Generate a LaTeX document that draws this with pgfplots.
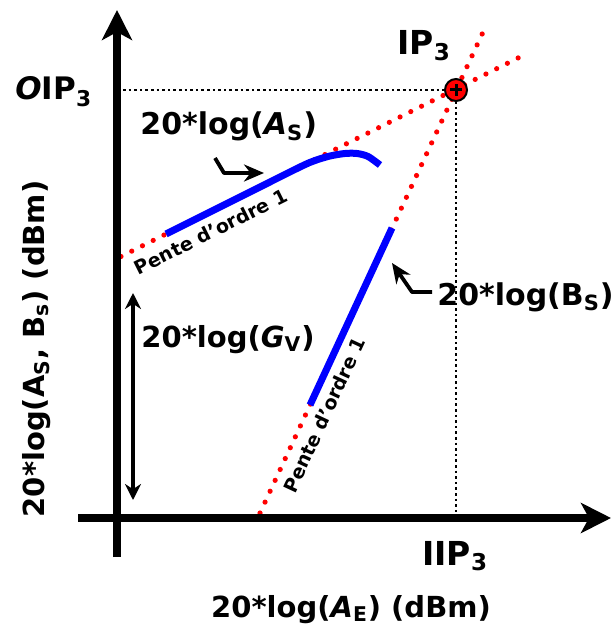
\documentclass[border=0pt]{standalone}
\usepackage{pgfplots}
\pgfplotsset{compat=1.18}
\usetikzlibrary{arrows.meta}
\usepackage{fontspec}
\setmainfont{DejaVu Sans}
\begin{document}
\begin{tikzpicture}
\begin{axis}[scale only axis, width=306pt, height=315pt,
  xmin=0, xmax=612, ymin=0, ymax=630, y dir=reverse,
  hide axis, clip=false]
\path (rel axis cs:0,0) rectangle (rel axis cs:1,1);
% black dotted guides
\addplot[black, line width=1.3pt, dash pattern=on 1.3pt off 1.5pt] coordinates {(123,90) (446,90)};
\addplot[black, line width=1.3pt, dash pattern=on 1.3pt off 1.5pt] coordinates {(456,101) (456,514)};
% red dotted asymptotes
\addplot[red, line width=2.6pt, line cap=round, dash pattern=on 0pt off 6pt] coordinates {(121,256.5) (527,53.5)};
\addplot[red, line width=2.6pt, line cap=round, dash pattern=on 0pt off 6pt] coordinates {(260,513) (484,30)};
% blue curves
\addplot[blue, line width=3.5pt, smooth] coordinates {(166,234) (200,217) (250,192) (300,167) (315,160.5) (330,156) (345,153.5) (357,153.5) (368,156.5) (380,165)};
\addplot[blue, line width=3.5pt] coordinates {(310,405) (392,228)};
% axes
\addplot[black, line width=4pt, -{Stealth[length=15pt,width=15pt,inset=4pt]}] coordinates {(117,557) (117,10)};
\addplot[black, line width=4pt, -{Stealth[length=15pt,width=15pt,inset=4pt]}] coordinates {(78,518) (611,518)};
% G_V double arrow
\addplot[black, line width=1.6pt, {Stealth[length=8pt,width=8pt]}-{Stealth[length=8pt,width=8pt]}] coordinates {(133,293) (133,500)};
% bent arrows
\addplot[black, line width=1.9pt, line join=round, -{Stealth[length=10pt,width=8.5pt]}] coordinates {(215,158) (224,173) (264,173)};
\addplot[black, line width=1.9pt, line join=round, -{Stealth[length=10pt,width=8.5pt]}] coordinates {(432,292) (412,292) (392,263)};
% IP3 marker
\addplot[only marks, mark=*, mark size=5.5pt, mark options={fill=red, draw=black, line width=1pt}] coordinates {(456,90)};
\addplot[only marks, mark=+, mark size=3pt, mark options={black, line width=1.5pt}] coordinates {(456,90)};
% labels
\begin{scope}[every node/.style={inner sep=0pt}]
\node[anchor=base west, font=\bfseries\fontsize{15.5}{20}\selectfont] at (axis cs:15,100) {\textit{O}IP\textsubscript{3}};
\node[anchor=base west, font=\bfseries\fontsize{16.5}{20}\selectfont] at (axis cs:397,55) {IP\textsubscript{3}};
\node[anchor=base west, font=\bfseries\fontsize{16.5}{20}\selectfont] at (axis cs:422,565) {IIP\textsubscript{3}};
\node[anchor=base, font=\bfseries\fontsize{14.5}{20}\selectfont] at (axis cs:351,617) {20*log(\textit{A}\textsubscript{E}) (dBm)};
\node[anchor=base, rotate=90, font=\bfseries\fontsize{14.5}{20}\selectfont] at (axis cs:44,349) {20*log(A\textsubscript{S}, B\textsubscript{s}) (dBm)};
\node[anchor=base west, font=\bfseries\fontsize{15}{20}\selectfont] at (axis cs:140,135) {20*log(\textit{A}\textsubscript{S})};
\node[anchor=base west, font=\bfseries\fontsize{14.5}{20}\selectfont] at (axis cs:141,347) {20*log(\textit{G}\textsubscript{V})};
\node[anchor=base west, font=\bfseries\fontsize{15}{20}\selectfont] at (axis cs:437,305) {20*log(B\textsubscript{S})};
\node[anchor=base, rotate=26.57, font=\bfseries\fontsize{9.5}{12}\selectfont] at (axis cs:214,238) {Pente d'ordre 1};
\node[anchor=base, rotate=65.1, font=\bfseries\fontsize{9.5}{12}\selectfont] at (axis cs:331,418) {Pente d'ordre 1};
\end{scope}
\end{axis}
\end{tikzpicture}
\end{document}
